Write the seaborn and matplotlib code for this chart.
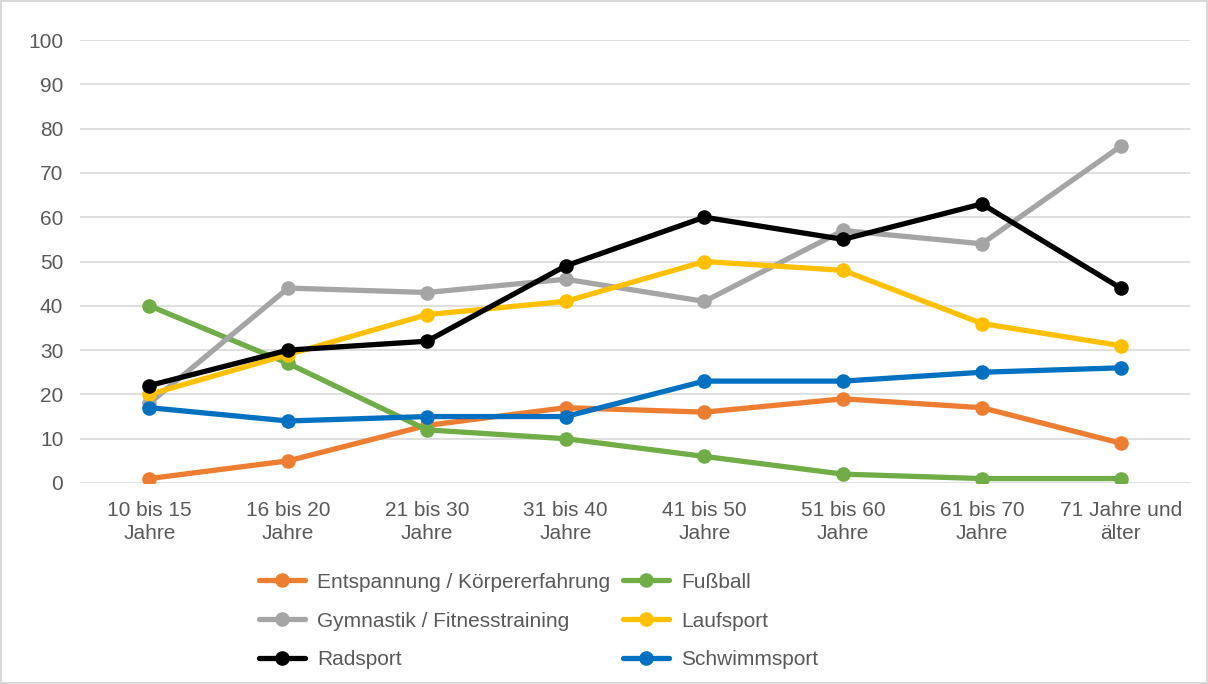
import pandas as pd
import matplotlib
matplotlib.use('Agg')
import matplotlib.pyplot as plt
import seaborn as sns

# Age groups (x axis)
age_groups = ['10 bis 15\nJahre', '16 bis 20\nJahre', '21 bis 30\nJahre', '31 bis 40\nJahre',
              '41 bis 50\nJahre', '51 bis 60\nJahre', '61 bis 70\nJahre', '71 Jahre und\nälter']

# Series values (percent)
entspannung = [1, 5, 13, 17, 16, 19, 17, 9]
fussball = [40, 27, 12, 10, 6, 2, 1, 1]
gymnastik = [18, 44, 43, 46, 41, 57, 54, 76]
laufsport = [20, 29, 38, 41, 50, 48, 36, 31]
radsport = [22, 30, 32, 49, 60, 55, 63, 44]
schwimmsport = [17, 14, 15, 15, 23, 23, 25, 26]

series_names = ['Entspannung / Körpererfahrung', 'Fußball', 'Gymnastik / Fitnesstraining',
                'Laufsport', 'Radsport', 'Schwimmsport']
series_values = [entspannung, fussball, gymnastik, laufsport, radsport, schwimmsport]
colors = ['#ED7D31', '#70AD47', '#A5A5A5', '#FFC000', '#000000', '#0070C0']

rows = []
for name, vals in zip(series_names, series_values):
    for i, v in enumerate(vals):
        rows.append({'pos': i, 'Sportart': name, 'Wert': v})
df = pd.DataFrame(rows)

sns.set_style("white")
plt.rcParams['font.family'] = ['Liberation Sans', 'DejaVu Sans']

fig = plt.figure(figsize=(12.08, 6.84), dpi=100)
fig.patch.set_edgecolor('#d9d9d9')
fig.patch.set_linewidth(1.5)
ax = fig.add_axes([80 / 1208, 1 - 483 / 684, 1110 / 1208, 443 / 684])

sns.lineplot(data=df, x='pos', y='Wert', hue='Sportart', hue_order=series_names,
             palette=colors, marker='o', markersize=10.5, markeredgewidth=0,
             linewidth=3.8, sort=False, ax=ax, zorder=3)

ax.set_xlim(-0.5, 7.5)
ax.set_ylim(0, 100)
ax.set_yticks(range(0, 101, 10))
ax.set_xticks(range(len(age_groups)))
ax.set_xticklabels(age_groups, linespacing=1.25)
ax.set_xlabel('')
ax.set_ylabel('')
ax.yaxis.grid(True, color='#d9d9d9', linewidth=1.2, zorder=0)
ax.xaxis.grid(False)
for side in ['top', 'right', 'left', 'bottom']:
    ax.spines[side].set_visible(False)
ax.tick_params(axis='both', length=0, labelsize=15, labelcolor='#595959')
ax.tick_params(axis='y', pad=12)
ax.tick_params(axis='x', pad=13)

# legend filled row by row, like the original
handles, labels = ax.get_legend_handles_labels()
ax.legend_.remove()
order = [0, 2, 4, 1, 3, 5]
fig.legend([handles[i] for i in order], [labels[i] for i in order], ncol=2, loc='upper left',
           bbox_to_anchor=(240 / 1208, 1 - 554 / 684),
           frameon=False, fontsize=15, labelcolor='#595959', handlelength=2.2,
           handletextpad=0.6, columnspacing=0.6, labelspacing=0.95)

fig.savefig('out.png', dpi=100)
